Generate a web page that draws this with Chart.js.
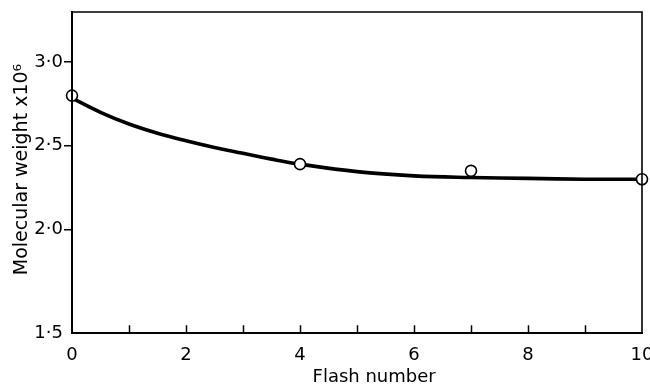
<!DOCTYPE html>
<html>
<head>
<meta charset="utf-8">
<script src="https://cdn.jsdelivr.net/npm/chart.js@4/dist/chart.umd.min.js"></script>
<style>
  html, body { margin: 0; padding: 0; background: #fff; overflow: hidden; }
  #wrap { position: relative; width: 666px; height: 386px; }
</style>
</head>
<body>
<div id="wrap"><canvas id="c" width="666" height="386"></canvas></div>
<script>
// Measured points (open circles)
const flashNumbers = [0, 4, 7, 10];
const molWeights   = [2.80, 2.39, 2.35, 2.30];
// Fitted curve
const curveFlash  = [0, 0.5, 1, 1.5, 2, 2.5, 3, 3.5, 4, 5, 6, 7, 8, 9, 10];
const curveWeight = [2.785, 2.70, 2.63, 2.575, 2.53, 2.49, 2.455, 2.42, 2.39, 2.345, 2.32, 2.31, 2.305, 2.30, 2.30];
// Axes
const xTickValues = [0, 1, 2, 3, 4, 5, 6, 7, 8, 9, 10];
const xTickLabels = ['0', '', '2', '', '4', '', '6', '', '8', '', '10'];
const yAxisMin = 1.38, yAxisMax = 3.30;
const yTickValues = [2.0, 2.5, 3.0];
const yTickLabels = ['2·0', '2·5', '3·0'];
const yBottomLabel = '1·5';
const xTitle = 'Flash number';
const yTitle = 'Molecular weight x10⁶';

const FONT = 'DejaVu Sans';

const framePlugin = {
  id: 'frame',
  afterDatasetsDraw(chart) {
    const { ctx, chartArea: a, scales } = chart;
    ctx.save();
    ctx.strokeStyle = '#000';
    ctx.lineCap = 'square';
    // inward ticks on x axis
    ctx.lineWidth = 1.5;
    xTickValues.forEach(v => {
      if (v === 0 || v === 10) return;
      const px = Math.round(scales.x.getPixelForValue(v)) + 0.5;
      ctx.beginPath();
      ctx.moveTo(px, a.bottom);
      ctx.lineTo(px, a.bottom - 7);
      ctx.stroke();
    });
    // frame
    ctx.lineWidth = 2;
    ctx.beginPath();
    ctx.moveTo(a.left, a.top);
    ctx.lineTo(a.left, a.bottom);
    ctx.lineTo(a.right, a.bottom);
    ctx.stroke();
    ctx.lineWidth = 1.6;
    ctx.beginPath();
    ctx.moveTo(a.left, a.top);
    ctx.lineTo(a.right, a.top);
    ctx.lineTo(a.right, a.bottom);
    ctx.stroke();
    // axis titles
    ctx.fillStyle = '#000';
    ctx.font = '18px "' + FONT + '"';
    ctx.textAlign = 'center';
    ctx.textBaseline = 'alphabetic';
    ctx.fillText(xTitle, a.left + (a.right - a.left) * 0.53, 382);
    ctx.save();
    ctx.translate(27, (a.top + a.bottom) / 2 - 3);
    ctx.rotate(-Math.PI / 2);
    ctx.font = '19px "' + FONT + '"';
    ctx.fillText(yTitle, 0, 0);
    ctx.restore();
    ctx.restore();
  }
};

new Chart(document.getElementById('c'), {
  type: 'scatter',
  data: {
    datasets: [
      {
        type: 'scatter',
        data: flashNumbers.map((x, i) => ({ x, y: molWeights[i] })),
        pointRadius: 5.5,
        pointBackgroundColor: '#fff',
        pointBorderColor: '#000',
        pointBorderWidth: 1.6,
        showLine: false,
        clip: false,
        order: 0
      },
      {
        type: 'line',
        data: curveFlash.map((x, i) => ({ x, y: curveWeight[i] })),
        borderColor: '#000',
        borderWidth: 3.6,
        pointRadius: 0,
        fill: false,
        tension: 0.4,
        clip: false,
        order: 1
      }
    ]
  },
  options: {
    responsive: false,
    animation: false,
    layout: { padding: { left: 0, right: 24, top: 12, bottom: 0 } },
    plugins: { legend: { display: false }, tooltip: { enabled: false } },
    scales: {
      x: {
        type: 'linear',
        min: 0, max: 10,
        afterBuildTicks: s => { s.ticks = xTickValues.map(v => ({ value: v })); },
        afterFit: s => { s.height = 53; },
        grid: { display: false, drawTicks: false },
        border: { display: false },
        ticks: {
          color: '#000',
          font: { family: FONT, size: 18 },
          padding: 12,
          maxRotation: 0,
          autoSkip: false,
          callback: (v) => xTickLabels[xTickValues.indexOf(v)]
        }
      },
      y: {
        type: 'linear',
        min: yAxisMin, max: yAxisMax,
        afterBuildTicks: s => {
          s.ticks = [{ value: yAxisMin }].concat(yTickValues.map(v => ({ value: v })));
        },
        afterFit: s => { s.width = 72; },
        grid: {
          drawOnChartArea: false,
          tickLength: 8,
          lineWidth: 1.5,
          color: ctx => (ctx.tick && ctx.tick.value === yAxisMin) ? 'rgba(0,0,0,0)' : '#000'
        },
        border: { display: false },
        ticks: {
          color: '#000',
          font: { family: FONT, size: 18 },
          padding: 1,
          autoSkip: false,
          callback: (v) => v === yAxisMin ? yBottomLabel : yTickLabels[yTickValues.indexOf(v)]
        }
      }
    }
  },
  plugins: [framePlugin]
});
</script>
</body>
</html>
